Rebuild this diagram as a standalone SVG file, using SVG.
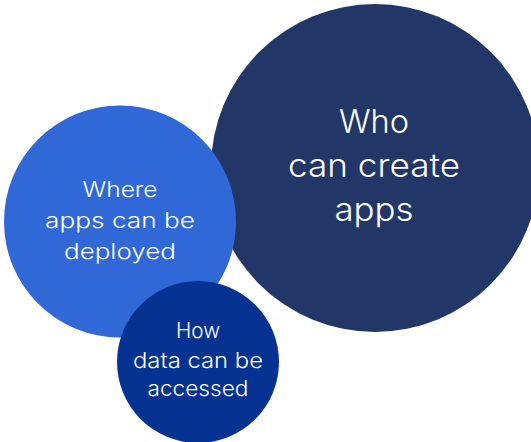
<svg xmlns="http://www.w3.org/2000/svg" width="531" height="442" viewBox="0 0 531 442">
<style>
.t{font-family:Inter,"Open Sans","Liberation Sans",sans-serif;fill:#ffffff;text-anchor:middle;font-weight:300}
.big{font-size:32px}
.mid{font-size:22px}
.sm{font-size:21px}
</style>
<rect width="531" height="442" fill="#ffffff"/>
<g id="who">
<circle cx="375" cy="168" r="164" fill="#223768"/>
<text class="t big" x="374" y="133" textLength="70" lengthAdjust="spacingAndGlyphs">Who</text>
<text class="t big" x="374" y="177" textLength="172" lengthAdjust="spacingAndGlyphs">can create</text>
<text class="t big" x="374" y="221" textLength="79" lengthAdjust="spacingAndGlyphs">apps</text>
</g>
<g id="where">
<circle cx="120" cy="221.5" r="116" fill="#3068d8"/>
<text class="t mid" x="120" y="197" textLength="75" lengthAdjust="spacingAndGlyphs">Where</text>
<text class="t mid" x="120" y="228" textLength="150" lengthAdjust="spacingAndGlyphs">apps can be</text>
<text class="t mid" x="120" y="259" textLength="112" lengthAdjust="spacingAndGlyphs">deployed</text>
</g>
<g id="how">
<circle cx="198" cy="362" r="81" fill="#063392"/>
<text class="t sm" x="198" y="338" textLength="44" lengthAdjust="spacingAndGlyphs">How</text>
<text class="t sm" x="198" y="368" textLength="130" lengthAdjust="spacingAndGlyphs">data can be</text>
<text class="t sm" x="198" y="396" textLength="101" lengthAdjust="spacingAndGlyphs">accessed</text>
</g>
<g id="connectors"></g>
</svg>
